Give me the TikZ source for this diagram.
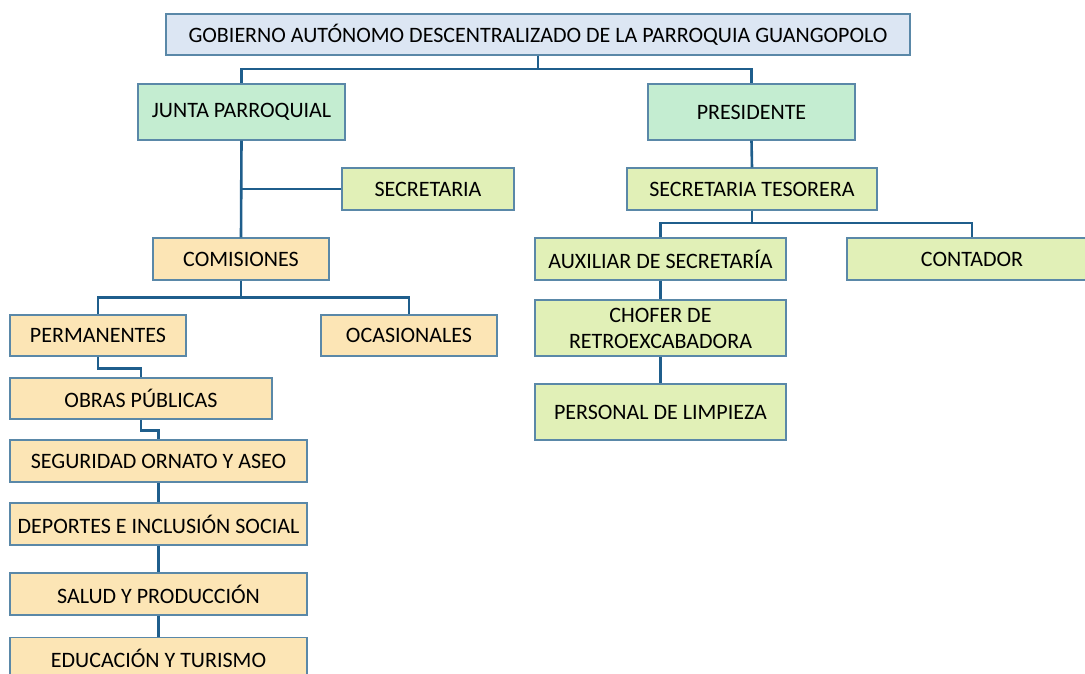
\documentclass[tikz,border=0pt]{standalone}
\usepackage{fontspec}
\setmainfont{Carlito}
\begin{document}
\begin{tikzpicture}[x=1pt,y=-1pt,
  box/.style={draw=boxline,line width=1.1pt,inner sep=2pt,align=center,font=\fontsize{22}{26}\selectfont},
  bluebox/.style={box,fill=blueF},
  greenbox/.style={box,fill=greenF},
  limebox/.style={box,fill=limeF},
  orangebox/.style={box,fill=orangeF},
  conn/.style={draw=connC,line width=2.6pt}]
\definecolor{boxline}{HTML}{5A88A8}
\definecolor{blueF}{HTML}{DCE6F3}
\definecolor{greenF}{HTML}{C4EDD1}
\definecolor{limeF}{HTML}{E1F0B7}
\definecolor{orangeF}{HTML}{FCE5B5}
\definecolor{connC}{HTML}{1F5E8C}
\useasboundingbox (0,0) rectangle (1085,673);
\node[bluebox,minimum width=744pt,minimum height=41pt] (top) at (538,34.5) {GOBIERNO AUTÓNOMO DESCENTRALIZADO DE LA PARROQUIA GUANGOPOLO};
\node[greenbox,minimum width=207pt,minimum height=56pt] (junta) at (241.5,112) {JUNTA PARROQUIAL};
\node[greenbox,minimum width=207pt,minimum height=56pt] (pres) at (751.5,112) {PRESIDENTE};
\node[limebox,minimum width=172pt,minimum height=42pt] (sec) at (428,189) {SECRETARIA};
\node[limebox,minimum width=250pt,minimum height=42pt] (sectes) at (752,189) {SECRETARIA TESORERA};
\node[orangebox,minimum width=176pt,minimum height=42pt] (comis) at (241,259) {COMISIONES};
\node[limebox,minimum width=251pt,minimum height=42pt] (aux) at (660.5,259) {AUXILIAR DE SECRETARÍA};
\node[limebox,minimum width=250pt,minimum height=42pt] (cont) at (972,259) {CONTADOR};
\node[orangebox,minimum width=176pt,minimum height=41pt] (perm) at (98,335.5) {PERMANENTES};
\node[orangebox,minimum width=176pt,minimum height=41pt] (ocas) at (409,335.5) {OCASIONALES};
\node[limebox,minimum width=251pt,minimum height=56pt] (chof) at (660.5,328) {CHOFER DE\\RETROEXCABADORA};
\node[limebox,minimum width=251pt,minimum height=56pt] (limp) at (660.5,412) {PERSONAL DE LIMPIEZA};
\node[orangebox,minimum width=262pt,minimum height=41pt] (obras) at (141,398.5) {OBRAS PÚBLICAS};
\node[orangebox,minimum width=297pt,minimum height=42pt] (seg) at (158.5,461) {SEGURIDAD ORNATO Y ASEO};
\node[orangebox,minimum width=297pt,minimum height=42pt] (dep) at (158.5,524) {DEPORTES E INCLUSIÓN SOCIAL};
\node[orangebox,minimum width=297pt,minimum height=42pt] (sal) at (158.5,594) {SALUD Y PRODUCCIÓN};
\node[orangebox,minimum width=297pt,minimum height=42pt] (edu) at (158.5,658.5) {EDUCACIÓN Y TURISMO};
% connectors
\draw[conn] (top.south) -- ++(0,13.5) -| (junta.north);
\draw[conn] (top.south) -- ++(0,13.5) -| (pres.north);
\draw[conn] (junta.south) -- (comis.north);
\draw[conn] (junta.south |- sec.west) -- (sec.west);
\draw[conn] (comis.south) -- ++(0,17) -| (perm.north);
\draw[conn] (comis.south) -- ++(0,17) -| (ocas.north);
\draw[conn] (perm.south) -- ++(0,12) -| (obras.north);
\draw[conn] (obras.south) -- ++(0,11) -| (seg.north);
\draw[conn] (seg.south) -- (dep.north);
\draw[conn] (dep.south) -- (sal.north);
\draw[conn] (sal.south) -- (edu.north);
\draw[conn] (pres.south) -- (sectes.north);
\draw[conn] (sectes.south) -- ++(0,12.5) -| (aux.north);
\draw[conn] (sectes.south) -- ++(0,12.5) -| (cont.north);
\draw[conn] (aux.south) -- (chof.north);
\draw[conn] (chof.south) -- (limp.north);
\end{tikzpicture}
\end{document}
